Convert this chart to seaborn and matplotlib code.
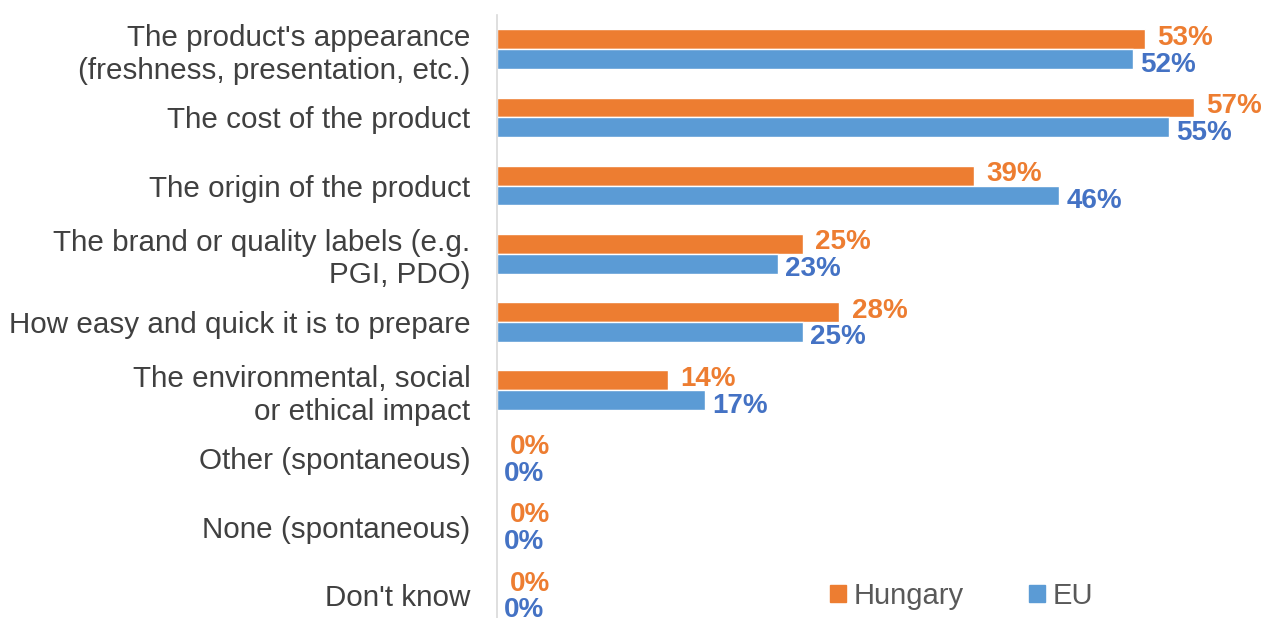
import pandas as pd
import seaborn as sns
import matplotlib.pyplot as plt

# data
categories = [
    "The product's appearance\n(freshness, presentation, etc.)",
    "The cost of the product",
    "The origin of the product",
    "The brand or quality labels (e.g.\nPGI, PDO)",
    "How easy and quick it is to prepare",
    "The environmental, social\nor ethical impact",
    "Other (spontaneous)",
    "None (spontaneous)",
    "Don't know",
]
hungary = [53, 57, 39, 25, 28, 14, 0, 0, 0]
eu = [52, 55, 46, 23, 25, 17, 0, 0, 0]
series = ["Hungary", "EU"]

df = pd.DataFrame({
    "Category": categories * 2,
    "Series": ["Hungary"] * len(categories) + ["EU"] * len(categories),
    "Value": hungary + eu,
})

bar_colors = {"Hungary": "#ED7D31", "EU": "#5B9BD5"}
label_colors = {"Hungary": "#ED7D31", "EU": "#4472C4"}

sns.set_theme(style="white")
plt.rcParams["font.family"] = ["Liberation Sans", "DejaVu Sans"]

fig = plt.figure(figsize=(12.66, 6.18), dpi=100)
ax = fig.add_axes([497 / 1266, -11 / 618, 769 / 1266, 614 / 618])

sns.barplot(data=df, x="Value", y="Category", hue="Series", hue_order=series,
            palette=bar_colors, orient="h", width=0.58, ax=ax, legend=False,
            saturation=1)

# value labels: orange level with its bar, blue a little below
for cont, name in zip(ax.containers, series):
    dy = 1 if name == "Hungary" else -4
    for patch in cont:
        w = patch.get_width()
        yc = patch.get_y() + patch.get_height() / 2
        ax.annotate(f"{w:.0f}%", (w, yc), xytext=(9 if name == "Hungary" else 5, dy),
                    textcoords="offset points", ha="left", va="center",
                    fontsize=20, fontweight="bold", color=label_colors[name],
                    annotation_clip=False)

ax.set_xlim(0, 62.9)
ax.set_xlabel("")
ax.set_ylabel("")
ax.set_xticks([])
ax.tick_params(axis="y", length=0, pad=19, labelsize=21.3, labelcolor="#404040")
for s in ["top", "right", "bottom"]:
    ax.spines[s].set_visible(False)
ax.spines["left"].set_color("#D9D9D9")
ax.spines["left"].set_linewidth(1.2)

handles = [plt.Rectangle((0, 0), 1, 1, color=bar_colors[s]) for s in series]
fig.legend(handles, series, loc="center left", bbox_to_anchor=(830 / 1266, 1 - 596 / 618),
           ncol=2, frameon=False, fontsize=21, handlelength=0.55, handleheight=0.55,
           handletextpad=0.25, columnspacing=2.25, labelcolor="#595959",
           borderpad=0, borderaxespad=0)

fig.savefig("out.png", dpi=100)
